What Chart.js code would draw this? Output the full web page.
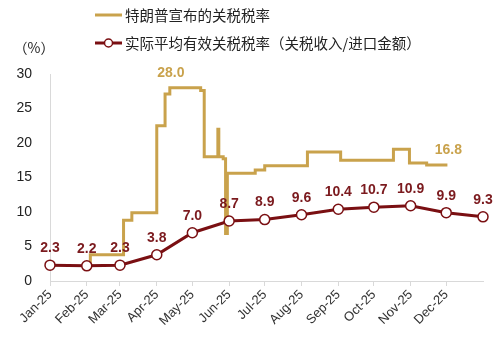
<!DOCTYPE html>
<html>
<head>
<meta charset="utf-8">
<script src="https://cdn.jsdelivr.net/npm/chart.js@4.4.1/dist/chart.umd.min.js"></script>
<style>
  html, body { margin: 0; padding: 0; background: #fff; }
  canvas { display: block; }
</style>
</head>
<body>
<canvas id="tariffChart" width="501" height="339"></canvas>
<script>
// x axis = day of year 2025 (Jan 1 = 0)
const monthDays = [0, 31, 59, 90, 120, 151, 181, 212, 243, 273, 304, 334];
const monthLabels = ["Jan-25", "Feb-25", "Mar-25", "Apr-25", "May-25", "Jun-25",
  "Jul-25", "Aug-25", "Sep-25", "Oct-25", "Nov-25", "Dec-25"];
const yTicks = [0, 5, 10, 15, 20, 25, 30];

// actual average effective tariff rate, first day of each month (Jan-25 .. Jan-26)
const effectiveDays = [0, 31, 59, 90, 120, 151, 181, 212, 243, 273, 304, 334, 365];
const effectiveRate = [2.3, 2.2, 2.3, 3.8, 7.0, 8.7, 8.9, 9.6, 10.4, 10.7, 10.9, 9.9, 9.3];

// announced tariff rate, stepped: rate that applies from that day on
const announcedDays = [33, 34, 62, 69, 90, 97, 101, 127, 130, 141.5, 142.3, 146, 148, 149.5, 173, 181, 217, 245, 289.5, 303, 317.5, 335];
const announcedRate = [2.4, 3.8, 8.8, 9.9, 22.5, 27.1, 28.0, 27.6, 18.0, 22.0, 18.0, 17.7, 6.9, 15.6, 16.1, 16.7, 18.7, 17.5, 19.1, 17.1, 16.8, 16.8];
const announcedLabels = { 6: "28.0", 21: "16.8" };

const legendAnnounced = "特朗普宣布的关税税率";
const legendEffective = "实际平均有效关税税率（关税收入/进口金额）";
const unitLabel = "（%）";

const gold = "#c9a24c";
const maroon = "#7a0f12";
const labelRed = "#7b1a1e";
const axisGray = "#d9d9d9";
const latinFont = "'Liberation Sans', Arial, sans-serif";
const cjkFont = "'Noto Sans CJK SC', 'Liberation Sans', sans-serif";

const toPoints = (xs, ys) => xs.map((x, i) => ({ x: x, y: ys[i] }));

// value labels above points
const valueLabels = {
  id: "valueLabels",
  afterDatasetsDraw(chart) {
    const ctx = chart.ctx;
    ctx.save();
    ctx.font = "bold 14px " + latinFont;
    ctx.textAlign = "center";
    ctx.textBaseline = "middle";

    const red = chart.getDatasetMeta(0).data;
    ctx.fillStyle = labelRed;
    red.forEach((pt, i) => {
      ctx.fillText(effectiveRate[i].toFixed(1), pt.x, pt.y - 17);
    });

    const goldPts = chart.getDatasetMeta(1).data;
    ctx.fillStyle = gold;
    Object.keys(announcedLabels).forEach((k) => {
      const pt = goldPts[k];
      ctx.fillText(announcedLabels[k], pt.x + 1, pt.y - 15);
    });
    ctx.restore();
  },
};

// legend + unit label, drawn at the top
const topLegend = {
  id: "topLegend",
  afterDraw(chart) {
    const ctx = chart.ctx;
    ctx.save();
    ctx.lineWidth = 3;

    ctx.strokeStyle = gold;
    ctx.beginPath();
    ctx.moveTo(95, 15);
    ctx.lineTo(122, 15);
    ctx.stroke();

    ctx.strokeStyle = maroon;
    ctx.beginPath();
    ctx.moveTo(95, 43);
    ctx.lineTo(122, 43);
    ctx.stroke();
    ctx.lineWidth = 1.5;
    ctx.fillStyle = "#fff";
    ctx.beginPath();
    ctx.arc(108.5, 43, 4, 0, Math.PI * 2);
    ctx.fill();
    ctx.stroke();

    ctx.fillStyle = "#222";
    ctx.font = "14.5px " + cjkFont;
    ctx.textBaseline = "middle";
    ctx.textAlign = "left";
    ctx.fillText(legendAnnounced, 125, 15);
    ctx.fillText(legendEffective, 125, 43);

    ctx.font = "14px " + cjkFont;
    ctx.textAlign = "center";
    ctx.fillText(unitLabel, 34, 48);
    ctx.restore();
  },
};

const ctx = document.getElementById("tariffChart").getContext("2d");
const tariffChart = new Chart(ctx, {
  type: "line",
  data: {
    datasets: [
      {
        label: legendEffective,
        data: toPoints(effectiveDays, effectiveRate),
        borderColor: maroon,
        borderWidth: 3,
        pointRadius: 5,
        pointBorderWidth: 1.5,
        pointBackgroundColor: "#fff",
        pointBorderColor: maroon,
        tension: 0,
        clip: false,
      },
      {
        label: legendAnnounced,
        data: toPoints(announcedDays, announcedRate),
        borderColor: gold,
        borderWidth: 3,
        pointRadius: 0,
        stepped: true,
        clip: false,
      },
    ],
  },
  options: {
    responsive: false,
    animation: false,
    events: [],
    layout: {
      padding: { top: 74, right: 18, left: 0, bottom: 0 },
    },
    scales: {
      x: {
        type: "linear",
        min: 0,
        max: 365,
        afterBuildTicks: (scale) => {
          scale.ticks = monthDays.map((d) => ({ value: d }));
        },
        afterFit: (scale) => {
          scale.height = 58;
        },
        grid: {
          display: true,
          drawOnChartArea: false,
          drawTicks: true,
          tickLength: 5,
          color: axisGray,
        },
        border: { display: true, color: axisGray, width: 1 },
        ticks: {
          autoSkip: false,
          maxRotation: 45,
          minRotation: 45,
          padding: 1,
          color: "#333",
          font: { family: latinFont, size: 13 },
          callback: (value, index) => monthLabels[index],
        },
      },
      y: {
        min: 0,
        max: 30,
        afterBuildTicks: (scale) => {
          scale.ticks = yTicks.map((v) => ({ value: v }));
        },
        afterFit: (scale) => {
          scale.width = 50;
        },
        grid: { display: false, drawTicks: false },
        border: { display: true, color: axisGray, width: 1 },
        ticks: {
          padding: 18,
          color: "#222",
          font: { family: latinFont, size: 14 },
        },
      },
    },
    plugins: {
      legend: { display: false },
      tooltip: { enabled: false },
    },
  },
  plugins: [valueLabels, topLegend],
});
</script>
</body>
</html>
